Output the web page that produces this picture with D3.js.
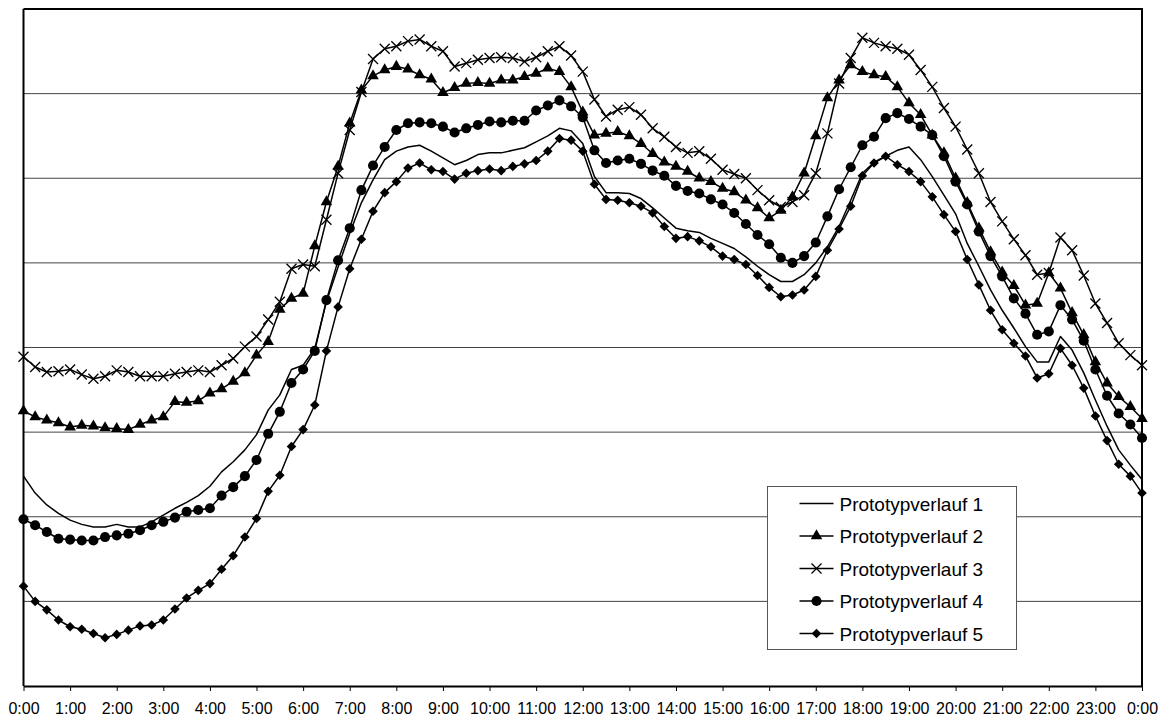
<!DOCTYPE html>
<html>
<head>
<meta charset="utf-8">
<script src="https://cdn.jsdelivr.net/npm/d3@7"></script>
<style>
  html, body { margin: 0; padding: 0; background: #fff; }
  svg { display: block; font-family: "Liberation Sans", Arial, sans-serif; }
</style>
</head>
<body>
<svg id="chart" width="1169" height="722"></svg>
<script>
// ==========================
// DATA (15-minute steps, 0:00 to 0:00)
// ==========================
const tickLabels = ["0:00", "1:00", "2:00", "3:00", "4:00", "5:00", "6:00", "7:00", "8:00",
  "9:00", "10:00", "11:00", "12:00", "13:00", "14:00", "15:00", "16:00", "17:00", "18:00",
  "19:00", "20:00", "21:00", "22:00", "23:00", "0:00"];

const seriesNames = ["Prototypverlauf 1", "Prototypverlauf 2", "Prototypverlauf 3",
  "Prototypverlauf 4", "Prototypverlauf 5"];

const verlauf1 = [2.48, 2.28, 2.14, 2.04, 1.96, 1.91, 1.88, 1.88, 1.91, 1.88,
  1.88, 1.94, 2.02, 2.10, 2.17, 2.25, 2.36, 2.53, 2.65, 2.79,
  2.97, 3.26, 3.44, 3.74, 3.79, 3.99, 4.54, 4.95, 5.35, 5.71,
  5.98, 6.22, 6.32, 6.37, 6.39, 6.32, 6.24, 6.16, 6.21, 6.28,
  6.30, 6.30, 6.33, 6.36, 6.43, 6.50, 6.59, 6.56, 6.41, 6.02,
  5.83, 5.83, 5.82, 5.76, 5.65, 5.53, 5.41, 5.38, 5.36, 5.29,
  5.23, 5.17, 5.07, 4.96, 4.86, 4.78, 4.78, 4.86, 5.00, 5.19,
  5.43, 5.74, 6.06, 6.19, 6.26, 6.33, 6.37, 6.22, 6.02, 5.80,
  5.58, 5.23, 4.96, 4.68, 4.44, 4.23, 4.01, 3.83, 3.83, 4.13,
  3.97, 3.70, 3.38, 3.07, 2.79, 2.61, 2.44];

const verlauf2 = [3.25, 3.18, 3.14, 3.11, 3.06, 3.08, 3.07, 3.05, 3.04, 3.03,
  3.09, 3.14, 3.18, 3.36, 3.35, 3.37, 3.46, 3.51, 3.60, 3.70,
  3.91, 4.07, 4.45, 4.58, 4.64, 5.20, 5.72, 6.14, 6.65, 7.04,
  7.21, 7.28, 7.32, 7.29, 7.22, 7.17, 7.01, 7.07, 7.12, 7.13,
  7.12, 7.16, 7.16, 7.20, 7.24, 7.30, 7.26, 7.08, 6.78, 6.51,
  6.53, 6.55, 6.50, 6.41, 6.29, 6.19, 6.14, 6.08, 6.00, 5.96,
  5.88, 5.84, 5.74, 5.65, 5.53, 5.62, 5.78, 6.06, 6.50, 6.95,
  7.16, 7.34, 7.26, 7.22, 7.20, 7.08, 6.89, 6.75, 6.51, 6.30,
  6.00, 5.71, 5.41, 5.13, 4.89, 4.73, 4.50, 4.52, 4.88, 4.70,
  4.41, 4.15, 3.83, 3.58, 3.42, 3.30, 3.16];

const verlauf3 = [3.89, 3.77, 3.71, 3.72, 3.74, 3.68, 3.63, 3.66, 3.73, 3.71,
  3.66, 3.66, 3.66, 3.69, 3.71, 3.73, 3.71, 3.79, 3.87, 4.01,
  4.13, 4.33, 4.54, 4.93, 4.98, 4.96, 5.51, 6.06, 6.57, 7.02,
  7.41, 7.53, 7.56, 7.62, 7.64, 7.56, 7.50, 7.32, 7.36, 7.40,
  7.42, 7.43, 7.42, 7.38, 7.43, 7.50, 7.56, 7.45, 7.26, 6.93,
  6.73, 6.81, 6.84, 6.75, 6.59, 6.49, 6.37, 6.30, 6.32, 6.23,
  6.10, 6.05, 6.00, 5.86, 5.74, 5.66, 5.72, 5.80, 6.06, 6.53,
  7.12, 7.42, 7.66, 7.60, 7.56, 7.53, 7.46, 7.28, 7.08, 6.83,
  6.61, 6.34, 6.06, 5.72, 5.49, 5.28, 5.09, 4.86, 4.88, 5.30,
  5.15, 4.85, 4.52, 4.29, 4.05, 3.91, 3.79];

const verlauf4 = [1.97, 1.90, 1.82, 1.74, 1.73, 1.72, 1.72, 1.76, 1.78, 1.80,
  1.84, 1.90, 1.94, 1.99, 2.06, 2.08, 2.10, 2.25, 2.35, 2.48,
  2.67, 2.98, 3.24, 3.58, 3.74, 3.96, 4.56, 5.03, 5.41, 5.86,
  6.15, 6.37, 6.57, 6.65, 6.66, 6.65, 6.61, 6.54, 6.59, 6.63,
  6.67, 6.66, 6.68, 6.68, 6.80, 6.86, 6.92, 6.85, 6.72, 6.33,
  6.18, 6.21, 6.23, 6.17, 6.09, 6.03, 5.91, 5.85, 5.82, 5.75,
  5.69, 5.59, 5.46, 5.33, 5.22, 5.06, 5.00, 5.08, 5.24, 5.55,
  5.87, 6.13, 6.39, 6.49, 6.71, 6.77, 6.70, 6.61, 6.51, 6.26,
  5.96, 5.69, 5.37, 5.08, 4.84, 4.58, 4.40, 4.15, 4.19, 4.50,
  4.33, 4.08, 3.74, 3.43, 3.22, 3.09, 2.93];

const verlauf5 = [1.18, 1.00, 0.90, 0.78, 0.70, 0.67, 0.62, 0.57, 0.61, 0.66,
  0.71, 0.72, 0.78, 0.91, 1.04, 1.13, 1.21, 1.38, 1.54, 1.76,
  1.98, 2.30, 2.49, 2.83, 3.03, 3.32, 3.96, 4.48, 4.93, 5.28,
  5.61, 5.83, 5.96, 6.12, 6.18, 6.10, 6.08, 5.99, 6.06, 6.09,
  6.11, 6.09, 6.14, 6.17, 6.21, 6.32, 6.47, 6.45, 6.32, 5.93,
  5.75, 5.74, 5.71, 5.67, 5.59, 5.43, 5.29, 5.31, 5.26, 5.19,
  5.08, 5.04, 4.98, 4.85, 4.71, 4.60, 4.62, 4.68, 4.84, 5.15,
  5.40, 5.67, 6.03, 6.18, 6.26, 6.16, 6.08, 5.96, 5.78, 5.57,
  5.37, 5.04, 4.74, 4.44, 4.21, 4.05, 3.90, 3.64, 3.69, 3.99,
  3.79, 3.52, 3.19, 2.90, 2.62, 2.48, 2.28];

const gridValues = [1, 2, 3, 4, 5, 6, 7];

// ==========================
// LAYOUT
// ==========================
const svg = d3.select("#chart");
const plotLeft = 23.5, plotRight = 1142, plotTop = 9, plotBottom = 686;

const x = d3.scaleLinear().domain([0, 96]).range([plotLeft, plotRight]);
const y = d3.scaleLinear().domain([0, 8]).range([plotBottom, plotTop]);

// gridlines
svg.append("g")
    .selectAll("line")
    .data(gridValues)
    .enter()
    .append("line")
    .attr("x1", plotLeft).attr("x2", plotRight)
    .attr("y1", d => y(d)).attr("y2", d => y(d))
    .attr("stroke", "#444")
    .attr("stroke-width", 1);

// frame: top and right
svg.append("path")
    .attr("d", `M${plotLeft},${y(8)}H${plotRight}V${plotBottom}`)
    .attr("fill", "none")
    .attr("stroke", "#000")
    .attr("stroke-width", 2);

// left axis line (no labels)
svg.append("line")
    .attr("x1", plotLeft).attr("x2", plotLeft)
    .attr("y1", y(8)).attr("y2", plotBottom)
    .attr("stroke", "#000")
    .attr("stroke-width", 2);

// bottom axis
const xAxis = d3.axisBottom(x)
    .tickValues(d3.range(0, 97, 4))
    .tickFormat((d, i) => tickLabels[i])
    .tickSize(5)
    .tickSizeOuter(0);

const gx = svg.append("g")
    .attr("transform", `translate(0,${plotBottom})`)
    .call(xAxis);
gx.select(".domain").attr("stroke", "#000").attr("stroke-width", 2);
gx.selectAll(".tick line").attr("stroke", "#000").attr("stroke-width", 1);
gx.selectAll(".tick text")
    .attr("y", 17)
    .attr("fill", "#000")
    .style("font-family", "'Liberation Sans', Arial, sans-serif")
    .style("font-size", "16px");

// ==========================
// SERIES
// ==========================
const triangle = d3.symbol().type(d3.symbolTriangle).size(58)();
const circle = d3.symbol().type(d3.symbolCircle).size(80)();
const diamond = d3.symbol().type(d3.symbolSquare).size(46)();
const cross = "M-5,-5L5,5M-5,5L5,-5";

const series = [
  { name: seriesNames[0], values: verlauf1, marker: null },
  { name: seriesNames[1], values: verlauf2, marker: "triangle" },
  { name: seriesNames[2], values: verlauf3, marker: "cross" },
  { name: seriesNames[3], values: verlauf4, marker: "circle" },
  { name: seriesNames[4], values: verlauf5, marker: "diamond" }
];

function drawMarker(g, type, cx, cy) {
  if (type === "triangle") {
    g.append("path").attr("d", triangle).attr("transform", `translate(${cx},${cy})`).attr("fill", "#000");
  } else if (type === "circle") {
    g.append("path").attr("d", circle).attr("transform", `translate(${cx},${cy})`).attr("fill", "#000");
  } else if (type === "diamond") {
    g.append("path").attr("d", diamond).attr("transform", `translate(${cx},${cy}) rotate(45)`).attr("fill", "#000");
  } else if (type === "cross") {
    g.append("path").attr("d", cross).attr("transform", `translate(${cx},${cy})`)
      .attr("fill", "none").attr("stroke", "#000").attr("stroke-width", 1.3);
  }
}

const line = d3.line().x((d, i) => x(i)).y(d => y(d));

series.forEach(s => {
  const g = svg.append("g");
  g.append("path")
      .datum(s.values)
      .attr("d", line)
      .attr("fill", "none")
      .attr("stroke", "#000")
      .attr("stroke-width", 1.5)
      .attr("stroke-linejoin", "round");
  if (s.marker) {
    s.values.forEach((v, i) => drawMarker(g, s.marker, x(i), y(v)));
  }
});

// ==========================
// LEGEND
// ==========================
const legend = svg.append("g").attr("transform", "translate(767.5,486.5)");
legend.append("rect")
    .attr("width", 249)
    .attr("height", 163)
    .attr("fill", "#fff")
    .attr("stroke", "#555")
    .attr("stroke-width", 1);

series.forEach((s, i) => {
  const cy = 17 + i * 32.5;
  legend.append("line")
      .attr("x1", 32).attr("x2", 66)
      .attr("y1", cy).attr("y2", cy)
      .attr("stroke", "#000").attr("stroke-width", 1.5);
  if (s.marker) drawMarker(legend, s.marker, 49, cy);
  legend.append("text")
      .attr("x", 72)
      .attr("y", cy + 7)
      .attr("font-size", "19px")
      .attr("fill", "#000")
      .text(s.name);
});
</script>
</body>
</html>
